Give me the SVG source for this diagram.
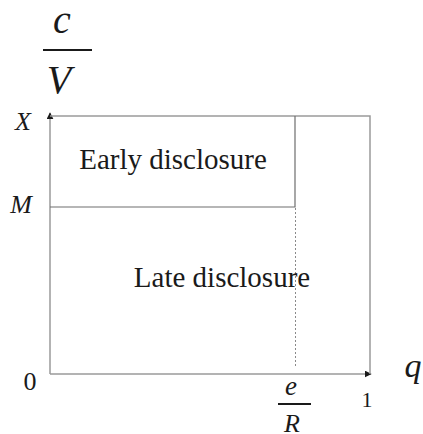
<svg xmlns="http://www.w3.org/2000/svg" width="423" height="434" viewBox="0 0 423 434">
<defs>
<style>
.ax{stroke:#9a9a9a;stroke-width:1.5;fill:none}
.ln{stroke:#6e6e6e;stroke-width:1.2;fill:none}
.dot{stroke:#8a8a8a;stroke-width:1;stroke-dasharray:2 2;fill:none}
text{font-family:'Liberation Serif','Times New Roman','DejaVu Serif',serif;fill:#1a1a1a}
.i{font-style:italic}
</style>
<marker id="ah" viewBox="0 0 10 10" refX="9" refY="5" markerWidth="7" markerHeight="7" markerUnits="userSpaceOnUse" orient="auto">
<path d="M0,0 L10,5 L0,10 z" fill="#1a1a1a"/>
</marker>
</defs>
<rect width="423" height="434" fill="#fff"/>
<g id="connectors">
<line class="ax" x1="50" y1="374" x2="50" y2="113" marker-end="url(#ah)"/>
<line class="ax" x1="50" y1="374" x2="371" y2="374" marker-end="url(#ah)"/>
<polyline class="ax" points="50,116 370,116 370,374"/>
<polyline class="ln" points="295,116 295,207 50,207"/>
<line class="dot" x1="295.5" y1="208" x2="295.5" y2="368"/>
</g>
<g id="early">
<text x="173" y="169" font-size="29" text-anchor="middle">Early disclosure</text>
</g>
<g id="late">
<text x="222" y="287" font-size="29" text-anchor="middle">Late disclosure</text>
</g>
<g id="yaxis-label">
<text class="i" x="62" y="33" font-size="40" text-anchor="middle">c</text>
<line x1="43" y1="50" x2="92" y2="50" stroke="#1a1a1a" stroke-width="2"/>
<text class="i" x="59" y="93" font-size="40" text-anchor="middle">V</text>
</g>
<g id="ticks">
<text class="i" x="23" y="130" font-size="26" text-anchor="middle">X</text>
<text class="i" x="21" y="213" font-size="26" text-anchor="middle">M</text>
<text x="30" y="390" font-size="26" text-anchor="middle">0</text>
<text x="367" y="407" font-size="22" text-anchor="middle">1</text>
<text class="i" x="291" y="395" font-size="27" text-anchor="middle">e</text>
<line x1="278" y1="404" x2="311" y2="404" stroke="#1a1a1a" stroke-width="1.8"/>
<text class="i" x="292" y="432" font-size="26" text-anchor="middle">R</text>
<text class="i" x="413" y="377" font-size="34" text-anchor="middle">q</text>
</g>
</svg>
